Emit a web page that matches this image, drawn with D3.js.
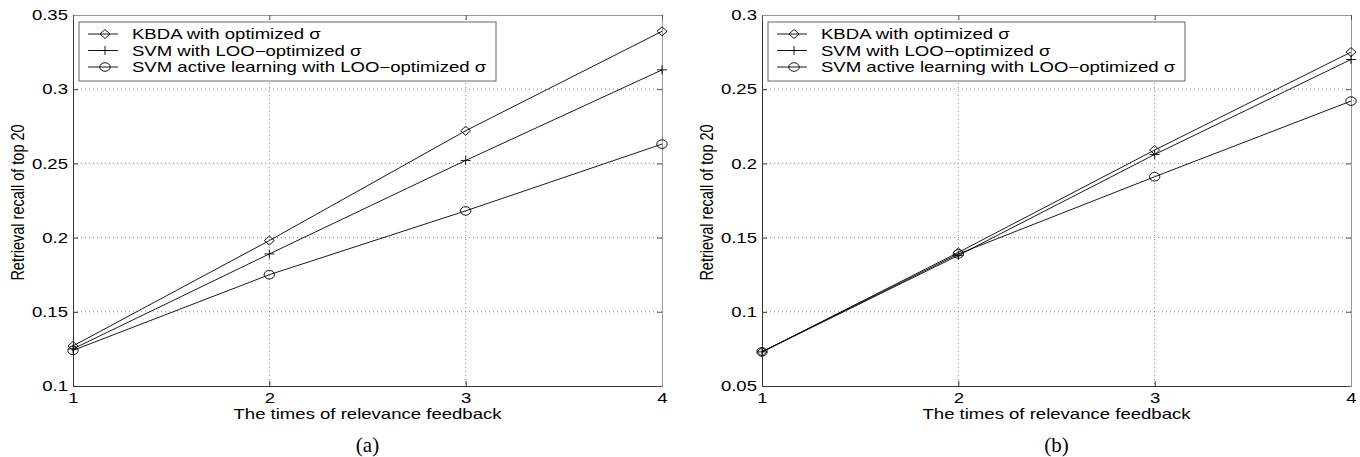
<!DOCTYPE html>
<html>
<head>
<meta charset="utf-8">
<script src="https://cdn.jsdelivr.net/npm/d3@7"></script>
<style>
  body { margin: 0; background: #fff; }
  text { font-family: "Liberation Sans", Arial, sans-serif; }
  text.caption { font-family: "Liberation Serif", "Times New Roman", serif; }
</style>
</head>
<body>
<div id="chart"></div>
<script>
// data
const feedbackTimes = [1, 2, 3, 4];
const seriesNames = ["KBDA with optimized \u03c3", "SVM with LOO\u2212optimized \u03c3", "SVM active learning with LOO\u2212optimized \u03c3"];
const seriesMarkers = ["diamond", "plus", "circle"];

const kbdaA = [0.127, 0.198, 0.272, 0.339];
const svmA = [0.125, 0.189, 0.252, 0.313];
const activeA = [0.124, 0.175, 0.218, 0.263];
const yTicksA = [0.1, 0.15, 0.2, 0.25, 0.3, 0.35];

const kbdaB = [0.073, 0.140, 0.209, 0.275];
const svmB = [0.073, 0.138, 0.206, 0.270];
const activeB = [0.073, 0.139, 0.191, 0.242];
const yTicksB = [0.05, 0.1, 0.15, 0.2, 0.25, 0.3];

const xTitle = "The times of relevance feedback";
const yTitle = "Retrieval recall of top 20";

const width = 1360, height = 457;
const sx = 1.28;      // the figure is stretched sideways
const fontSize = 14.5;

const svg = d3.select("#chart").append("svg")
    .attr("width", width)
    .attr("height", height);

function stretchText(sel) {
    sel.each(function() {
        const t = d3.select(this);
        const x = +t.attr("x") || 0;
        t.attr("x", 0).attr("transform", "translate(" + x + ",0) scale(" + sx + ",1)");
    });
}

function marker(g, type, cx, cy) {
    if (type === "diamond") {
        g.append("path")
            .attr("d", "M" + cx + "," + (cy - 4.5) + "L" + (cx + 5) + "," + cy + "L" + cx + "," + (cy + 4.5) + "L" + (cx - 5) + "," + cy + "Z")
            .attr("fill", "none").attr("stroke", "#000").attr("stroke-width", 0.9);
    } else if (type === "circle") {
        g.append("ellipse").attr("cx", cx).attr("cy", cy).attr("rx", 5.2).attr("ry", 4.3)
            .attr("fill", "none").attr("stroke", "#000").attr("stroke-width", 0.9);
    } else {
        g.append("path")
            .attr("d", "M" + (cx - 5) + "," + cy + "H" + (cx + 5) + "M" + cx + "," + (cy - 4.5) + "V" + (cy + 4.5))
            .attr("fill", "none").attr("stroke", "#000").attr("stroke-width", 0.9);
    }
}

function drawPanel(left, series, yTicks, label) {
    const plotL = left, plotR = left + 589, plotT = 15, plotB = 386;

    const x = d3.scaleLinear().domain([1, 4]).range([plotL, plotR]);
    const y = d3.scaleLinear().domain([yTicks[0], yTicks[yTicks.length - 1]]).range([plotB, plotT]);

    const g = svg.append("g");

    // dotted grid
    g.append("g").selectAll("line")
        .data(feedbackTimes.slice(1, -1))
        .enter().append("line")
        .attr("x1", d => x(d)).attr("x2", d => x(d))
        .attr("y1", plotT).attr("y2", plotB)
        .attr("stroke", "#888").attr("stroke-width", 1).attr("stroke-dasharray", "1,3");
    g.append("g").selectAll("line")
        .data(yTicks.slice(1, -1))
        .enter().append("line")
        .attr("x1", plotL).attr("x2", plotR)
        .attr("y1", d => y(d)).attr("y2", d => y(d))
        .attr("stroke", "#888").attr("stroke-width", 1).attr("stroke-dasharray", "1,3");

    // axes, ticks pointing inward
    const yAxis = g.append("g")
        .attr("transform", "translate(" + plotL + ",0)")
        .call(d3.axisLeft(y).tickValues(yTicks).tickSize(-5).tickPadding(5).tickFormat(d3.format("")));
    const xAxis = g.append("g")
        .attr("transform", "translate(0," + plotB + ")")
        .call(d3.axisBottom(x).tickValues(feedbackTimes).tickSize(-5).tickPadding(7).tickFormat(d3.format("d")));
    const yAxisR = g.append("g")
        .attr("transform", "translate(" + plotR + ",0)")
        .call(d3.axisRight(y).tickValues(yTicks).tickSize(-5).tickFormat(""));
    const xAxisT = g.append("g")
        .attr("transform", "translate(0," + plotT + ")")
        .call(d3.axisTop(x).tickValues(feedbackTimes).tickSize(-5).tickFormat(""));

    [yAxis, xAxis].forEach(a => {
        a.select(".domain").attr("stroke", "#333");
        a.selectAll(".tick line").attr("stroke", "#333");
        a.selectAll("text").attr("font-size", fontSize).attr("fill", "#000")
            .attr("font-family", null);
    });
    [yAxisR, xAxisT].forEach(a => {
        a.select(".domain").attr("stroke", "#999");
        a.selectAll(".tick line").attr("stroke", "#555");
    });
    stretchText(yAxis.selectAll("text"));
    xAxis.selectAll(".tick text").attr("transform", "scale(" + sx + ",1)");

    // series
    const line = d3.line().x((d, i) => x(feedbackTimes[i])).y(d => y(d));
    series.forEach((s, k) => {
        const sg = g.append("g");
        sg.append("path").attr("d", line(s))
            .attr("fill", "none").attr("stroke", "#000").attr("stroke-width", 0.9);
        s.forEach((v, i) => marker(sg, seriesMarkers[k], x(feedbackTimes[i]), y(v)));
    });

    // legend
    const lg = g.append("g");
    lg.append("rect")
        .attr("x", plotL + 6).attr("y", 22)
        .attr("width", 417).attr("height", 59)
        .attr("fill", "#fff").attr("stroke", "#666").attr("stroke-width", 1);
    seriesNames.forEach((name, k) => {
        const ly = 34 + k * 16.5;
        lg.append("line")
            .attr("x1", plotL + 15).attr("x2", plotL + 45)
            .attr("y1", ly).attr("y2", ly)
            .attr("stroke", "#000").attr("stroke-width", 0.9);
        marker(lg, seriesMarkers[k], plotL + 32, ly);
        lg.append("text")
            .attr("transform", "translate(" + (plotL + 59) + "," + (ly + 5) + ") scale(" + sx + ",1)")
            .attr("font-size", fontSize)
            .text(name);
    });

    // titles
    g.append("text")
        .attr("transform", "translate(" + ((plotL + plotR) / 2) + "," + (plotB + 33) + ") scale(" + sx + ",1)")
        .attr("text-anchor", "middle")
        .attr("font-size", fontSize)
        .text(xTitle);
    g.append("text")
        .attr("transform", "translate(" + (plotL - 49) + "," + ((plotT + plotB) / 2 + 2) + ") scale(" + sx + ",1) rotate(-90)")
        .attr("text-anchor", "middle")
        .attr("font-size", fontSize)
        .text(yTitle);
    g.append("text")
        .attr("class", "caption")
        .attr("transform", "translate(" + ((plotL + plotR) / 2) + "," + (plotB + 66) + ")")
        .attr("text-anchor", "middle")
        .attr("font-size", 21)
        .text(label);
}

drawPanel(73, [kbdaA, svmA, activeA], yTicksA, "(a)");
drawPanel(762, [kbdaB, svmB, activeB], yTicksB, "(b)");
</script>
</body>
</html>
